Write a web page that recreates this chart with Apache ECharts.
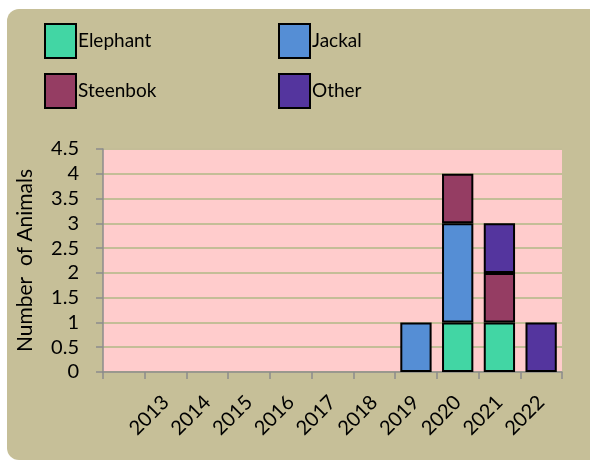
<!DOCTYPE html>
<html><head><meta charset="utf-8">
<script src="https://cdn.jsdelivr.net/npm/echarts@6/dist/echarts.min.js"></script>
<style>
html,body{margin:0;padding:0;background:#fff;}
#bg{position:absolute;left:7px;top:9px;width:600px;height:451px;border-radius:12px;background:#c6bf98;}
#c{position:absolute;left:0;top:0;width:590px;height:462px;}
</style></head>
<body><div id="bg"></div><div id="c"></div>
<script>
const categories = ["", "2013", "2014", "2015", "2016", "2017", "2018", "2019", "2020", "2021", "2022"];
const elephant = [0, 0, 0, 0, 0, 0, 0, 0, 1, 1, 0];
const jackal   = [0, 0, 0, 0, 0, 0, 0, 1, 2, 0, 0];
const steenbok = [0, 0, 0, 0, 0, 0, 0, 0, 1, 1, 0];
const other    = [0, 0, 0, 0, 0, 0, 0, 0, 0, 1, 1];
const yTicks = [0, 0.5, 1, 1.5, 2, 2.5, 3, 3.5, 4, 4.5];

const font = 'Lato';
const textColor = '#000';
const colors = {Elephant:'#42d6a4', Jackal:'#558ed5', Steenbok:'#953d63', Other:'#54359e'};

function ser(name, data){
  return {name, type:'bar', stack:'a', data: data.map(v => v === 0 ? null : v),
    barCategoryGap:'25%',
    itemStyle:{color:colors[name], borderColor:'#000', borderWidth:2}};
}
const legendCommon = {
  orient:'vertical', itemWidth:31, itemHeight:34, itemGap:14, icon:'rect', padding:0,
  textStyle:{fontFamily:font, fontSize:19, color:textColor, padding:[6,0,0,-3]},
  itemStyle:{borderColor:'#000', borderWidth:2},
  selectedMode:false
};
const chart = echarts.init(document.getElementById('c'));
chart.setOption({
  backgroundColor:'transparent',
  animation:false,
  legend:[
    Object.assign({left:44, top:23, data:['Elephant','Steenbok']}, legendCommon),
    Object.assign({left:278, top:23, data:['Jackal','Other']}, legendCommon)
  ],
  grid:{left:103, right:28, top:149, bottom:90, show:true, backgroundColor:'#ffcccc', borderWidth:0},
  xAxis:{type:'category', data:categories,
    axisLine:{lineStyle:{color:'#8c8c8c', width:1.5}},
    axisTick:{show:true, length:7, lineStyle:{color:'#8c8c8c', width:1.5}},
    axisLabel:{rotate:45, interval:0, margin:27, fontFamily:font, fontSize:20, color:textColor}
  },
  yAxis:{type:'value', min:yTicks[0], max:yTicks[yTicks.length-1], interval:0.5,
    name:'Number  of Animals', nameLocation:'middle', nameGap:67,
    nameTextStyle:{fontFamily:font, fontSize:21, color:textColor},
    axisLine:{show:true, lineStyle:{color:'#8c8c8c', width:1.5}},
    axisTick:{show:true, length:7, lineStyle:{color:'#8c8c8c', width:1.5}},
    splitLine:{lineStyle:{color:'#c4bd97', width:2}},
    axisLabel:{margin:24, fontFamily:font, fontSize:20, color:textColor}
  },
  series:[ser('Elephant', elephant), ser('Jackal', jackal), ser('Steenbok', steenbok), ser('Other', other)]
});
</script></body></html>
